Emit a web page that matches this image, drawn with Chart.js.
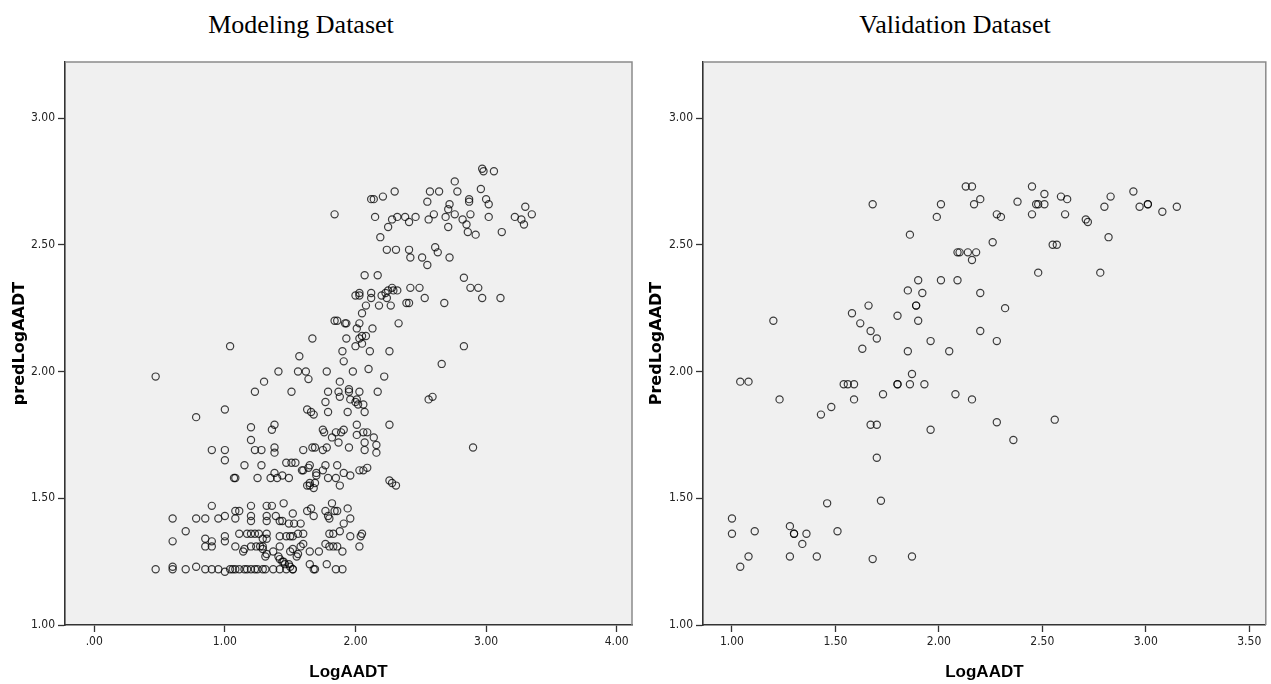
<!DOCTYPE html>
<html>
<head>
<meta charset="utf-8">
<script src="https://cdn.jsdelivr.net/npm/chart.js@4.4.1/dist/chart.umd.min.js"></script>
<style>
  html, body { margin: 0; padding: 0; background: #fff; }
  #wrap { position: relative; width: 1271px; height: 684px; overflow: hidden; }
  canvas { position: absolute; top: 0; }
  .panel-title {
    position: absolute; top: 10px; width: 400px; margin-left: -200px; line-height: 30px;
    text-align: center; font: 26px "Liberation Serif", "Times New Roman", serif; color: #000;
  }
</style>
</head>
<body>
<div id="wrap">
  <div class="panel-title" style="left:301px">Modeling Dataset</div>
  <div class="panel-title" style="left:955px">Validation Dataset</div>
  <canvas id="modeling" width="640" height="684" style="left:0"></canvas>
  <canvas id="validation" width="631" height="684" style="left:640px"></canvas>
</div>
<script>
// [LogAADT, predLogAADT]
const modelingPairs = [
  [2.97,2.80],[2.98,2.79],[3.06,2.79],[2.76,2.75],[2.78,2.71],[2.96,2.72],
  [2.57,2.71],[2.64,2.71],[2.30,2.71],[2.21,2.69],[2.12,2.68],[2.14,2.68],
  [2.55,2.67],[2.87,2.68],[2.87,2.67],[2.72,2.66],[2.71,2.64],[3.00,2.68],[3.02,2.66],
  [1.84,2.62],[2.15,2.61],[2.28,2.60],[2.32,2.61],[2.38,2.61],[2.41,2.59],[2.46,2.61],
  [2.25,2.57],[2.19,2.53],[2.56,2.60],[2.60,2.62],[2.69,2.61],[2.76,2.62],[2.82,2.60],
  [2.85,2.58],[2.88,2.62],[2.71,2.57],[2.86,2.55],[2.92,2.54],[3.02,2.61],[3.12,2.55],
  [3.22,2.61],[3.27,2.60],[3.30,2.65],[3.35,2.62],[3.29,2.58],
  [2.24,2.48],[2.31,2.48],[2.41,2.48],[2.42,2.45],[2.51,2.45],[2.55,2.42],[2.61,2.49],
  [2.63,2.47],[2.72,2.45],[2.07,2.38],[2.17,2.38],[2.83,2.37],[2.88,2.33],[2.94,2.33],
  [2.97,2.29],[3.11,2.29],[2.68,2.27],[2.00,2.30],[2.03,2.31],[2.03,2.30],[2.12,2.31],
  [2.12,2.29],[2.20,2.30],[2.23,2.31],[2.25,2.32],[2.28,2.33],[2.29,2.32],[2.32,2.32],
  [2.42,2.33],[2.49,2.33],[2.18,2.26],[2.27,2.26],[2.24,2.29],[2.53,2.29],[2.39,2.27],
  [2.41,2.27],[2.08,2.26],[2.05,2.23],[1.84,2.20],[1.86,2.20],[1.92,2.19],[1.93,2.19],
  [2.03,2.19],[2.13,2.17],[2.33,2.19],[1.67,2.13],[1.93,2.13],[2.01,2.17],[2.03,2.13],
  [2.05,2.14],[2.08,2.14],[2.00,2.10],[2.05,2.11],[2.11,2.08],[1.90,2.08],[1.91,2.04],
  [2.26,2.08],[2.83,2.10],[2.66,2.03],[1.04,2.10],[1.57,2.06],
  [0.47,1.98],[1.41,2.00],[1.56,2.00],[1.62,2.00],[1.64,1.97],[1.30,1.96],[1.23,1.92],
  [1.51,1.92],[1.00,1.85],[0.78,1.82],[1.63,1.85],[1.66,1.84],[1.68,1.83],[1.20,1.78],
  [1.38,1.79],[1.36,1.77],[1.20,1.73],[0.90,1.69],[1.00,1.69],[1.00,1.65],[1.23,1.69],
  [1.28,1.69],[1.38,1.70],[1.38,1.68],[1.60,1.69],[1.67,1.70],[1.69,1.70],[1.15,1.63],
  [1.28,1.63],[1.47,1.64],[1.51,1.64],[1.54,1.64],[1.64,1.62],[1.59,1.61],[1.70,1.59],
  [1.07,1.58],[1.08,1.58],[1.25,1.58],[1.35,1.58],[1.40,1.58],[1.38,1.60],[1.44,1.59],
  [1.49,1.58],[1.63,1.55],[1.65,1.55],[1.68,1.54],[1.65,1.56],[1.69,1.56],
  [1.78,2.00],[1.98,2.00],[2.10,2.01],[2.22,1.98],[1.88,1.96],[1.79,1.92],[1.87,1.92],
  [1.95,1.92],[1.95,1.93],[2.03,1.92],[2.17,1.92],[1.77,1.88],[1.88,1.90],[1.96,1.89],
  [2.01,1.89],[2.06,1.87],[2.56,1.89],[2.59,1.90],[2.26,1.79],[1.75,1.69],[1.78,1.70],
  [1.95,1.70],[2.07,1.69],[2.16,1.71],[2.16,1.68],[1.79,1.84],[1.94,1.84],[2.07,1.84],
  [2.00,1.88],[2.02,1.87],[1.75,1.77],[1.76,1.76],[1.82,1.74],[1.85,1.76],[1.87,1.72],
  [1.89,1.76],[1.91,1.77],[2.01,1.79],[2.01,1.75],[2.06,1.76],[2.09,1.76],[2.07,1.72],
  [2.14,1.74],[1.65,1.63],[1.60,1.61],[1.70,1.60],[1.75,1.61],[1.77,1.63],[1.79,1.58],
  [1.86,1.63],[1.85,1.58],[1.88,1.55],[1.91,1.60],[1.96,1.59],[2.03,1.61],[2.06,1.61],
  [2.09,1.62],[2.26,1.57],[2.28,1.56],[2.31,1.55],[2.90,1.70],
  [0.90,1.47],[0.60,1.42],[0.70,1.37],[0.60,1.33],[0.78,1.42],[0.85,1.42],[0.95,1.42],
  [1.00,1.43],[0.85,1.34],[0.85,1.31],[0.90,1.33],[0.90,1.31],[1.00,1.35],[1.00,1.33],
  [1.08,1.45],[1.08,1.42],[1.11,1.45],[1.20,1.47],[1.20,1.43],[1.20,1.41],[1.32,1.47],
  [1.36,1.47],[1.32,1.43],[1.32,1.41],[1.45,1.48],[1.39,1.43],[1.42,1.41],[1.44,1.41],
  [1.52,1.44],[1.49,1.40],[1.53,1.40],[1.58,1.40],[1.11,1.36],[1.17,1.36],[1.20,1.36],
  [1.23,1.36],[1.26,1.36],[1.32,1.36],[1.32,1.34],[1.29,1.34],[1.42,1.35],[1.47,1.35],
  [1.50,1.35],[1.52,1.35],[1.56,1.36],[1.60,1.36],[1.08,1.31],[1.14,1.29],[1.20,1.31],
  [1.24,1.31],[1.29,1.31],[1.32,1.28],[1.37,1.29],[1.42,1.31],[1.50,1.29],[1.58,1.31],
  [1.60,1.32],[1.65,1.29],[1.72,1.29],[1.15,1.30],[1.27,1.31],[1.29,1.30],[1.31,1.27],
  [1.41,1.27],[1.55,1.27],[1.42,1.26],[1.44,1.25],[1.46,1.24],[1.49,1.24],[1.45,1.25],
  [0.47,1.22],[0.60,1.22],[0.60,1.23],[0.70,1.22],[0.78,1.23],[0.85,1.22],[0.90,1.22],
  [0.95,1.22],[1.00,1.21],[1.04,1.22],[1.06,1.22],[1.08,1.22],[1.11,1.22],[1.15,1.22],
  [1.17,1.22],[1.20,1.22],[1.23,1.22],[1.25,1.22],[1.29,1.22],[1.31,1.22],[1.37,1.22],
  [1.42,1.22],[1.47,1.22],[1.52,1.22],[1.65,1.24],[1.68,1.22],[1.69,1.22],
  [1.63,1.45],[1.66,1.46],[1.68,1.43],[1.77,1.45],[1.79,1.43],[1.80,1.42],[1.82,1.48],
  [1.84,1.45],[1.86,1.45],[1.94,1.46],[1.96,1.42],[1.91,1.40],[1.88,1.37],[1.96,1.35],
  [2.05,1.36],[2.04,1.35],[2.03,1.31],[1.77,1.32],[1.80,1.36],[1.83,1.36],[1.80,1.31],
  [1.83,1.31],[1.86,1.31],[1.90,1.29],[1.52,1.30],[1.56,1.28],[1.50,1.23],[1.52,1.22],
  [1.78,1.24],[1.85,1.22],[1.90,1.22]
];

// [LogAADT, PredLogAADT]
const validationPairs = [
  [1.68,2.66],[2.01,2.66],[1.99,2.61],[1.86,2.54],[2.09,2.47],[1.90,2.36],[2.01,2.36],
  [2.09,2.36],[1.85,2.32],[1.92,2.31],[1.89,2.26],[1.89,2.26],[1.66,2.26],[1.20,2.20],
  [1.58,2.23],[1.62,2.19],[1.80,2.22],[1.90,2.20],[1.67,2.16],[1.70,2.13],[1.96,2.12],
  [1.63,2.09],[1.85,2.08],[2.05,2.08],[1.04,1.96],[1.08,1.96],[1.23,1.89],[1.43,1.83],
  [1.48,1.86],[1.54,1.95],[1.56,1.95],[1.59,1.95],[1.59,1.89],[1.73,1.91],[1.80,1.95],
  [1.80,1.95],[1.87,1.99],[1.86,1.95],[1.93,1.95],[2.08,1.91],[1.67,1.79],[1.70,1.79],
  [1.96,1.77],[1.70,1.66],[1.46,1.48],[1.72,1.49],[1.00,1.42],[1.00,1.36],[1.11,1.37],
  [1.04,1.23],[1.08,1.27],[1.28,1.39],[1.30,1.36],[1.30,1.36],[1.36,1.36],[1.34,1.32],
  [1.28,1.27],[1.41,1.27],[1.51,1.37],[1.68,1.26],[1.87,1.27],
  [2.13,2.73],[2.16,2.73],[2.20,2.68],[2.17,2.66],[2.28,2.62],[2.30,2.61],[2.38,2.67],
  [2.45,2.73],[2.51,2.70],[2.47,2.66],[2.48,2.66],[2.51,2.66],[2.45,2.62],[2.59,2.69],
  [2.62,2.68],[2.61,2.62],[2.71,2.60],[2.72,2.59],[2.80,2.65],[2.83,2.69],[2.94,2.71],
  [2.97,2.65],[3.01,2.66],[3.01,2.66],[3.08,2.63],[3.15,2.65],[2.82,2.53],[2.55,2.50],
  [2.57,2.50],[2.26,2.51],[2.10,2.47],[2.14,2.47],[2.18,2.47],[2.16,2.44],[2.48,2.39],
  [2.78,2.39],[2.20,2.31],[2.32,2.25],[2.20,2.16],[2.28,2.12],[2.16,1.89],[2.28,1.80],
  [2.36,1.73],[2.56,1.81]
];

const yTicks = [1.00, 1.50, 2.00, 2.50, 3.00];
const modelingXTicks = [0, 1, 2, 3, 4];
const validationXTicks = [1.00, 1.50, 2.00, 2.50, 3.00, 3.50];

const Y_MIN = 1.0, Y_MAX = 3.221;

const tickFont = { family: '"Liberation Sans Narrow", "DejaVu Sans Condensed", sans-serif', size: 12 };
const xTitleFont = { family: '"Liberation Sans", Arial, sans-serif', size: 17, weight: 'bold' };
const yTitleFont = { family: '"DejaVu Sans", sans-serif', size: 16, weight: 'bold' };

const fmt = v => v === 0 ? '.00' : v.toFixed(2);

// light grey plot area plus the thin grey top/right frame
const plotFrame = {
  id: 'plotFrame',
  beforeDraw(chart) {
    const { ctx, chartArea: a } = chart;
    ctx.save();
    ctx.fillStyle = '#f0f0f0';
    ctx.fillRect(a.left, a.top, a.right - a.left, a.bottom - a.top);
    ctx.restore();
  },
  afterDraw(chart) {
    const { ctx, chartArea: a } = chart;
    ctx.save();
    ctx.strokeStyle = '#8a8a8a';
    ctx.lineWidth = 1.5;
    ctx.beginPath();
    ctx.moveTo(a.left, a.top);
    ctx.lineTo(a.right, a.top);
    ctx.lineTo(a.right, a.bottom);
    ctx.stroke();
    ctx.restore();
  }
};

function makeChart(id, pairs, cfg) {
  const ctx = document.getElementById(id).getContext('2d');
  return new Chart(ctx, {
    type: 'scatter',
    data: {
      datasets: [{
        data: pairs.map(([x, y]) => ({ x, y })),
        pointStyle: 'circle',
        pointRadius: 3.6,
        borderWidth: 1.2,
        borderColor: 'rgba(0,0,0,0.75)',
        backgroundColor: 'rgba(0,0,0,0)'
      }]
    },
    options: {
      responsive: false,
      animation: false,
      layout: { padding: { top: 62, right: cfg.padRight, bottom: 0, left: 0 } },
      plugins: { legend: { display: false }, tooltip: { enabled: false } },
      scales: {
        x: {
          type: 'linear',
          min: cfg.xMin,
          max: cfg.xMax,
          afterBuildTicks: s => { s.ticks = cfg.xTicks.map(value => ({ value })); },
          afterFit: s => { s.height = 59; },
          grid: { drawOnChartArea: false, tickLength: 7, tickColor: '#333', tickWidth: 1.3 },
          border: { color: '#333', width: 1.6 },
          ticks: { font: tickFont, color: '#222', padding: 3, callback: fmt },
          title: {
            display: true, text: 'LogAADT', color: '#000',
            font: xTitleFont,
            padding: { top: 0, bottom: 1 }
          }
        },
        y: {
          type: 'linear',
          min: Y_MIN,
          max: Y_MAX,
          afterBuildTicks: s => { s.ticks = yTicks.map(value => ({ value })); },
          afterFit: s => { s.width = cfg.yWidth; },
          grid: { drawOnChartArea: false, tickLength: 7, tickColor: '#333', tickWidth: 1.3 },
          border: { color: '#333', width: 1.6 },
          ticks: { font: tickFont, color: '#222', padding: 3, callback: fmt },
          title: {
            display: true, text: cfg.yTitle, color: '#000',
            font: yTitleFont,
            padding: { top: cfg.yTitlePad, bottom: 0 }
          }
        }
      }
    },
    plugins: [plotFrame]
  });
}

makeChart('modeling', modelingPairs, {
  xMin: -0.224, xMax: 4.117, xTicks: modelingXTicks,
  yWidth: 65, padRight: 8, yTitle: 'predLogAADT', yTitlePad: 10
});

makeChart('validation', validationPairs, {
  xMin: 0.860, xMax: 3.58, xTicks: validationXTicks,
  yWidth: 63, padRight: 3, yTitle: 'PredLogAADT', yTitlePad: 7
});
</script>
</body>
</html>
